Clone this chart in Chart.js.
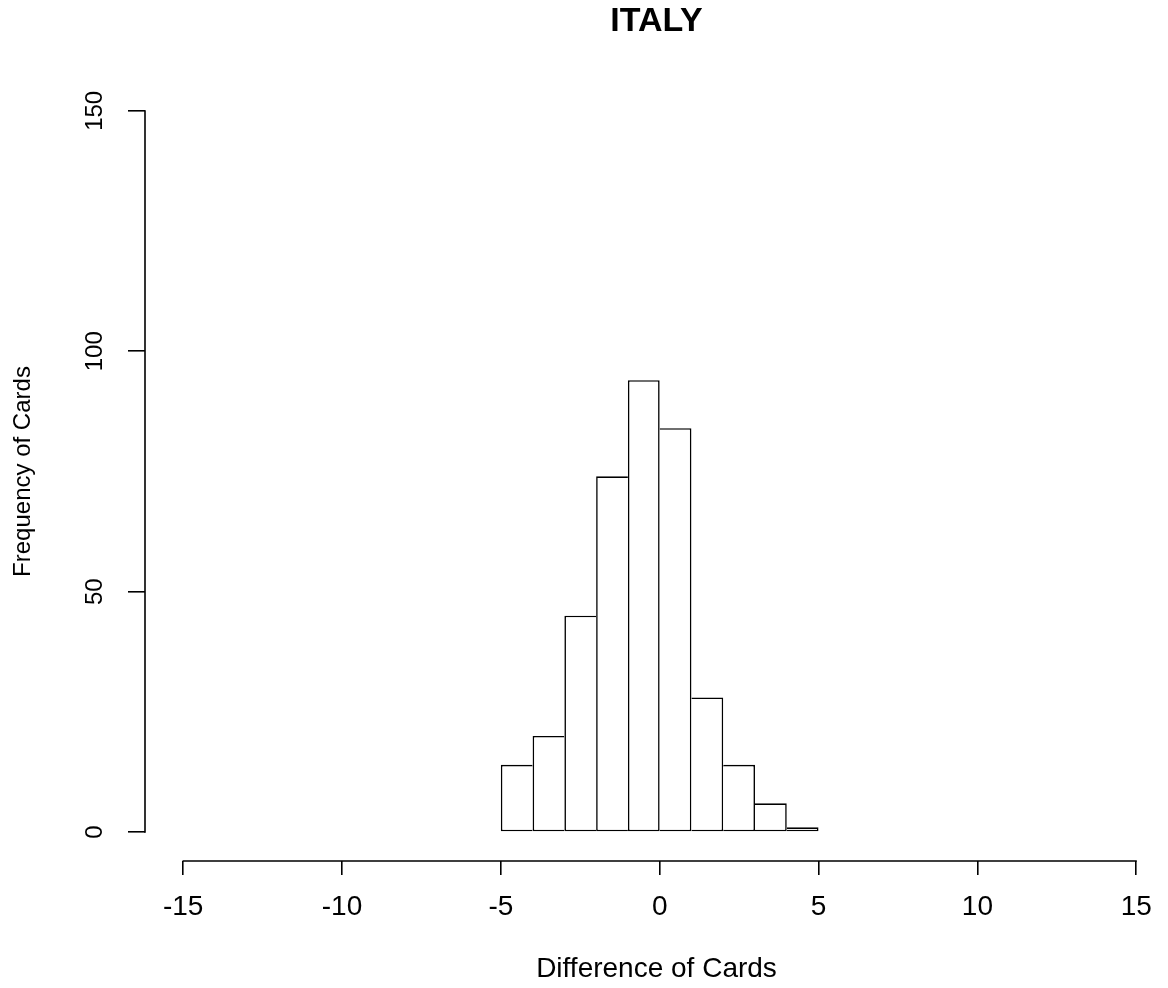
<!DOCTYPE html>
<html>
<head>
<meta charset="utf-8">
<title>ITALY</title>
<script src="https://cdn.jsdelivr.net/npm/chart.js@4.4.1/dist/chart.umd.min.js"></script>
<style>
    html, body { margin: 0; padding: 0; background: #fff; }
    #wrap { width: 1168px; height: 988px; }
</style>
</head>
<body>
<div id="wrap"><canvas id="hist" width="1168" height="988"></canvas></div>
<script>
// histogram bins (left edges) and frequencies
const binStarts = [-5, -4, -3, -2, -1, 0, 1, 2, 3, 4];
const counts = [14, 20, 45, 74, 94, 84, 28, 14, 6, 1];
const binWidth = 1;

const xTicks = [-15, -10, -5, 0, 5, 10, 15];
const yTicks = [0, 50, 100, 150];

const FONT = '"Liberation Sans", Arial, Helvetica, sans-serif';
Chart.defaults.font.family = FONT;
Chart.defaults.color = '#000';

const LINE = 1.6;

// the taller bar owns the shared edge, so inner lines stay single
function edges(i) {
    const v = counts[i];
    const prev = i > 0 ? counts[i - 1] : -1;
    const next = i < counts.length - 1 ? counts[i + 1] : -1;
    return {
        top: LINE,
        bottom: LINE,
        left: v > prev ? LINE : 0,
        right: v >= next ? LINE : 0
    };
}

// R style axis lines: only from first to last tick
const rAxes = {
    id: 'rAxes',
    afterDraw(chart) {
        const { ctx, chartArea } = chart;
        const x = chart.scales.x;
        const y = chart.scales.y;
        ctx.save();
        ctx.strokeStyle = '#000';
        ctx.lineWidth = LINE;
        ctx.lineCap = 'round';
        ctx.beginPath();
        ctx.moveTo(x.getPixelForValue(xTicks[0]), chartArea.bottom);
        ctx.lineTo(x.getPixelForValue(xTicks[xTicks.length - 1]), chartArea.bottom);
        ctx.moveTo(chartArea.left, y.getPixelForValue(yTicks[0]));
        ctx.lineTo(chartArea.left, y.getPixelForValue(yTicks[yTicks.length - 1]));
        ctx.stroke();
        ctx.restore();
    }
};

new Chart(document.getElementById('hist'), {
    type: 'bar',
    data: {
        datasets: [{
            data: binStarts.map((s, i) => ({ x: s + binWidth / 2, y: counts[i] })),
            backgroundColor: '#fff',
            borderColor: '#000',
            borderWidth: ctx => edges(ctx.dataIndex),
            borderSkipped: false,
            inflateAmount: 0,
            barPercentage: 1,
            categoryPercentage: 1
        }]
    },
    options: {
        responsive: false,
        animation: false,
        devicePixelRatio: 1,
        layout: { padding: 0, autoPadding: false },
        plugins: {
            legend: { display: false },
            tooltip: { enabled: false },
            title: {
                display: true,
                text: 'ITALY',
                fullSize: false,
                color: '#000',
                font: { size: 34, weight: 'bold', lineHeight: 1.2 },
                padding: { top: 1, bottom: 40.2 }
            }
        },
        scales: {
            x: {
                type: 'linear',
                min: -16.2,
                max: 16,
                offset: false,
                afterBuildTicks: s => { s.ticks = xTicks.map(v => ({ value: v })); },
                afterFit: s => { s.height = 127; },
                grid: {
                    offset: false,
                    drawOnChartArea: false,
                    drawTicks: true,
                    tickLength: 14,
                    color: '#000',
                    lineWidth: LINE
                },
                border: { display: false },
                ticks: {
                    font: { size: 28 },
                    padding: 15.7,
                    autoSkip: false,
                    maxRotation: 0,
                    color: '#000'
                },
                title: {
                    display: true,
                    text: 'Difference of Cards',
                    color: '#000',
                    font: { size: 28 },
                    padding: { top: 0, bottom: 2 }
                }
            },
            y: {
                type: 'linear',
                min: -6,
                max: 156,
                afterBuildTicks: s => { s.ticks = yTicks.map(v => ({ value: v })); },
                afterFit: s => { s.width = 145; },
                grid: {
                    drawOnChartArea: false,
                    drawTicks: true,
                    tickLength: 17,
                    color: '#000',
                    lineWidth: LINE
                },
                border: { display: false },
                ticks: {
                    font: { size: 24 },
                    padding: 13,
                    minRotation: 90,
                    maxRotation: 90,
                    crossAlign: 'center',
                    autoSkip: false,
                    color: '#000'
                },
                title: {
                    display: true,
                    text: 'Frequency of Cards',
                    color: '#000',
                    font: { size: 24 },
                    padding: { top: 9, bottom: 0 }
                }
            }
        }
    },
    plugins: [rAxes]
});
</script>
</body>
</html>
